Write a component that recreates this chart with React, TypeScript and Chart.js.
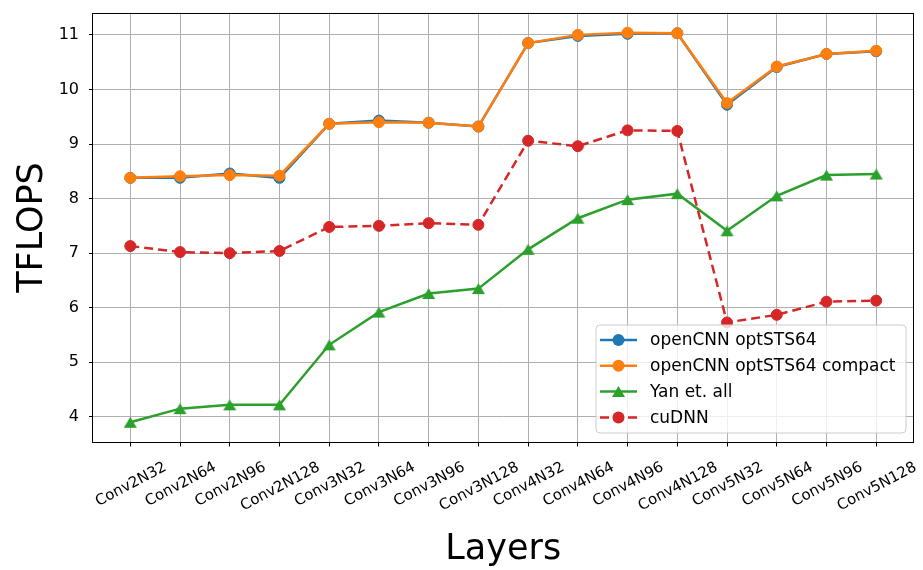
import React, { useEffect, useRef } from "react";
import { Chart, registerables } from "chart.js";

Chart.register(...registerables);

// Layer configurations on the x axis
const layers = [
  "Conv2N32", "Conv2N64", "Conv2N96", "Conv2N128",
  "Conv3N32", "Conv3N64", "Conv3N96", "Conv3N128",
  "Conv4N32", "Conv4N64", "Conv4N96", "Conv4N128",
  "Conv5N32", "Conv5N64", "Conv5N96", "Conv5N128",
];

// Throughput in TFLOPS
const optSTS64 = [8.38, 8.38, 8.46, 8.38, 9.37, 9.43, 9.39, 9.32, 10.85, 10.98, 11.02, 11.03, 9.72, 10.41, 10.65, 10.70];
const optSTS64Compact = [8.38, 8.41, 8.43, 8.42, 9.37, 9.40, 9.39, 9.32, 10.85, 11.0, 11.04, 11.03, 9.75, 10.42, 10.65, 10.71];
const yanEtAl = [3.90, 4.15, 4.22, 4.22, 5.32, 5.92, 6.26, 6.35, 7.07, 7.64, 7.98, 8.09, 7.41, 8.05, 8.43, 8.45];
const cuDNN = [7.13, 7.02, 7.00, 7.04, 7.48, 7.50, 7.55, 7.52, 9.06, 8.96, 9.25, 9.24, 5.73, 5.87, 6.11, 6.13];

const yTicks = [4, 5, 6, 7, 8, 9, 10, 11];
const seriesNames = ["openCNN optSTS64", "openCNN optSTS64 compact", "Yan et. all", "cuDNN"];

const BLUE = "#1f77b4";
const ORANGE = "#ff7f0e";
const GREEN = "#2ca02c";
const RED = "#d62728";
const FONT = '"DejaVu Sans", sans-serif';

function triangleMarker(color: string, w: number, h: number): HTMLCanvasElement {
  const c = document.createElement("canvas");
  c.width = w + 2;
  c.height = h + 2;
  const g = c.getContext("2d")!;
  g.fillStyle = color;
  g.beginPath();
  g.moveTo(c.width / 2, 1);
  g.lineTo(w + 1, h + 1);
  g.lineTo(1, h + 1);
  g.closePath();
  g.fill();
  return c;
}

const toPoints = (vals: number[]) => vals.map((y, x) => ({ x, y }));

const noScalePadding = (s: any) => {
  s.paddingTop = 0;
  s.paddingBottom = 0;
  s.paddingLeft = 0;
  s.paddingRight = 0;
};

const decorations = {
  id: "decorations",
  afterDraw(chart: any) {
    const { ctx, chartArea: a, scales } = chart;
    const xs = scales.x;
    ctx.save();

    // axes frame
    ctx.strokeStyle = "#000";
    ctx.lineWidth = 1;
    const L = Math.round(a.left) - 0.5;
    const T = Math.round(a.top) + 0.5;
    const R = Math.round(a.right) - 0.5;
    const B = Math.round(a.bottom) - 0.5;
    ctx.strokeRect(L, T, R - L, B - T);

    // rotated category labels
    ctx.fillStyle = "#000";
    ctx.font = `15px ${FONT}`;
    const ang = (28 * Math.PI) / 180;
    const capH = 11;
    layers.forEach((t, i) => {
      const x = xs.getPixelForValue(i);
      const w = ctx.measureText(t).width;
      const half = (w * Math.sin(ang) + capH * Math.cos(ang)) / 2;
      const cy = a.bottom + 17.5 + half;
      ctx.save();
      ctx.translate(x, cy);
      ctx.rotate(-ang);
      ctx.textAlign = "center";
      ctx.textBaseline = "alphabetic";
      ctx.fillText(t, 0, capH / 2);
      ctx.restore();
    });

    // axis titles
    ctx.font = `35px ${FONT}`;
    ctx.textAlign = "center";
    ctx.textBaseline = "alphabetic";
    ctx.fillText("Layers", (a.left + a.right) / 2, 559);
    ctx.save();
    ctx.translate(42, (a.top + a.bottom) / 2);
    ctx.rotate(-Math.PI / 2);
    ctx.fillText("TFLOPS", 0, 0);
    ctx.restore();

    // legend box
    const bw = 310;
    const bh = 108;
    const bx = a.right - 7.5 - bw;
    const by = a.bottom - 9.5 - bh;
    ctx.beginPath();
    ctx.roundRect(bx, by, bw, bh, 4);
    ctx.fillStyle = "rgba(255,255,255,0.8)";
    ctx.fill();
    ctx.strokeStyle = "#cccccc";
    ctx.lineWidth = 1;
    ctx.stroke();

    const colors = [BLUE, ORANGE, GREEN, RED];
    ctx.font = `17px ${FONT}`;
    ctx.textAlign = "left";
    ctx.textBaseline = "middle";
    seriesNames.forEach((name, k) => {
      const ry = by + 15 + k * 25.8;
      const c = colors[k];
      ctx.strokeStyle = c;
      ctx.lineWidth = 2.5;
      ctx.setLineDash(k === 3 ? [9, 5] : []);
      ctx.beginPath();
      ctx.moveTo(bx + 4, ry);
      ctx.lineTo(bx + 41, ry);
      ctx.stroke();
      ctx.setLineDash([]);
      ctx.fillStyle = c;
      const mx = bx + 22.5;
      if (k === 2) {
        ctx.beginPath();
        ctx.moveTo(mx, ry - 5.5);
        ctx.lineTo(mx + 6.5, ry + 5.5);
        ctx.lineTo(mx - 6.5, ry + 5.5);
        ctx.closePath();
        ctx.fill();
      } else {
        ctx.beginPath();
        ctx.arc(mx, ry, 6, 0, Math.PI * 2);
        ctx.fill();
      }
      ctx.fillStyle = "#000";
      ctx.fillText(name, bx + 54, ry + 1);
    });

    ctx.restore();
  },
};

export default function App() {
  const ref = useRef<HTMLCanvasElement>(null);

  useEffect(() => {
    document.body.style.margin = "0";
    const tri = triangleMarker(GREEN, 13, 11);
    const circle = {
      pointStyle: "circle",
      pointRadius: 5.5,
      pointBorderWidth: 1,
      pointHoverRadius: 5.5,
    };
    const chart = new Chart(ref.current!, {
      type: "line",
      data: {
        datasets: [
          {
            label: seriesNames[0],
            data: toPoints(optSTS64),
            borderColor: BLUE,
            backgroundColor: BLUE,
            pointBorderColor: BLUE,
            borderWidth: 2.5,
            order: 4,
            ...circle,
          },
          {
            label: seriesNames[1],
            data: toPoints(optSTS64Compact),
            borderColor: ORANGE,
            backgroundColor: ORANGE,
            pointBorderColor: ORANGE,
            borderWidth: 2.5,
            order: 3,
            ...circle,
          },
          {
            label: seriesNames[2],
            data: toPoints(yanEtAl),
            borderColor: GREEN,
            backgroundColor: GREEN,
            borderWidth: 2.5,
            pointStyle: tri as any,
            pointRadius: 6,
            order: 2,
          },
          {
            label: seriesNames[3],
            data: toPoints(cuDNN),
            borderColor: RED,
            backgroundColor: RED,
            pointBorderColor: RED,
            borderWidth: 2.5,
            borderDash: [9, 5],
            order: 1,
            ...circle,
          },
        ],
      },
      options: {
        animation: false,
        responsive: false,
        maintainAspectRatio: false,
        layout: { padding: { top: 12.5, right: 9.5, left: 0, bottom: 0 } },
        plugins: { legend: { display: false }, tooltip: { enabled: false } },
        elements: { line: { tension: 0 } },
        scales: {
          x: {
            type: "linear",
            min: -0.75,
            max: 15.75,
            afterBuildTicks: (s: any) => {
              s.ticks = layers.map((_, i) => ({ value: i }));
            },
            afterFit: (s: any) => {
              s.height = 127.5;
              noScalePadding(s);
            },
            ticks: { display: false },
            grid: {
              color: "#b0b0b0",
              lineWidth: 1,
              drawTicks: true,
              tickLength: 4,
              tickColor: "#000",
              tickWidth: 1,
            },
            border: { display: false },
          },
          y: {
            type: "linear",
            min: 3.53,
            max: 11.41,
            afterBuildTicks: (s: any) => {
              s.ticks = yTicks.map((v) => ({ value: v }));
            },
            afterFit: (s: any) => {
              s.width = 93;
              noScalePadding(s);
            },
            ticks: {
              color: "#000",
              font: { family: FONT, size: 16 },
              padding: 10,
              callback: (v: any) => String(v),
            },
            grid: {
              color: "#b0b0b0",
              lineWidth: 1,
              drawTicks: true,
              tickLength: 4,
              tickColor: "#000",
              tickWidth: 1,
            },
            border: { display: false },
          },
        },
      },
      plugins: [decorations],
    });
    return () => chart.destroy();
  }, []);

  return (
    <div style={{ width: 923, height: 570 }}>
      <canvas ref={ref} width={923} height={570} />
    </div>
  );
}
